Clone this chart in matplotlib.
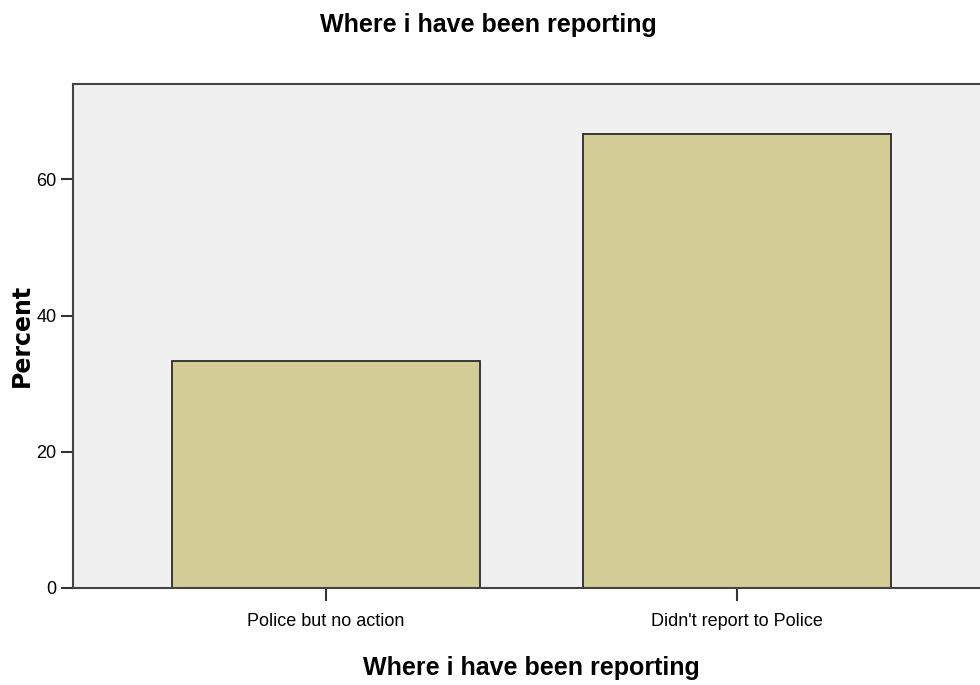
import matplotlib
matplotlib.use('Agg')
import matplotlib.pyplot as plt

# chart data
categories = ['Police but no action', "Didn't report to Police"]
percents = [33.33, 66.67]
y_ticks = [0, 20, 40, 60]

font = 'Liberation Sans'

fig = plt.figure(figsize=(9.8, 6.85), dpi=100)
ax_left, ax_right, ax_top, ax_bottom = 73, 990, 84, 588
ax = fig.add_axes([ax_left/980, 1-ax_bottom/685, (ax_right-ax_left)/980, (ax_bottom-ax_top)/685])
ax.set_facecolor('#f0f0f0')

x = list(range(len(categories)))
ax.bar(x, percents, width=0.75, color='#d2cd96', edgecolor='#2b2b2b', linewidth=1.3, zorder=2)

ax.set_xlim(-0.615, 1.615)
ax.set_ylim(0, 74)
ax.set_yticks(y_ticks)
ax.set_xticks(x)
ax.set_xticklabels(categories, family=font, fontsize=13)
ax.set_yticklabels([str(v) for v in y_ticks], family=font, fontsize=13)
ax.tick_params(axis='both', direction='out', length=9, width=1.5, color='#333333', pad=3)
ax.tick_params(axis='x', pad=9)

for side in ['left', 'bottom', 'top']:
    ax.spines[side].set_color('#444444')
    ax.spines[side].set_linewidth(1.5)
ax.spines['right'].set_visible(False)

ax.set_xlabel('Where i have been reporting', family=font, fontsize=18, fontweight='bold')
ax.xaxis.set_label_coords(0.5, -(668-ax_bottom)/(ax_bottom-ax_top), transform=ax.transAxes)
ax.xaxis.label.set_va('center')
ax.set_ylabel('Percent', family='DejaVu Sans', fontsize=17, fontweight='bold')
ax.yaxis.set_label_coords(-(ax_left-22)/(ax_right-ax_left), (ax_bottom-335)/(ax_bottom-ax_top),
                          transform=ax.transAxes)
ax.yaxis.label.set_va('center')

fig.text(0.498, 1-25/685, 'Where i have been reporting', family=font, fontsize=18,
         fontweight='bold', ha='center', va='center')

fig.savefig('out.png', dpi=100)
